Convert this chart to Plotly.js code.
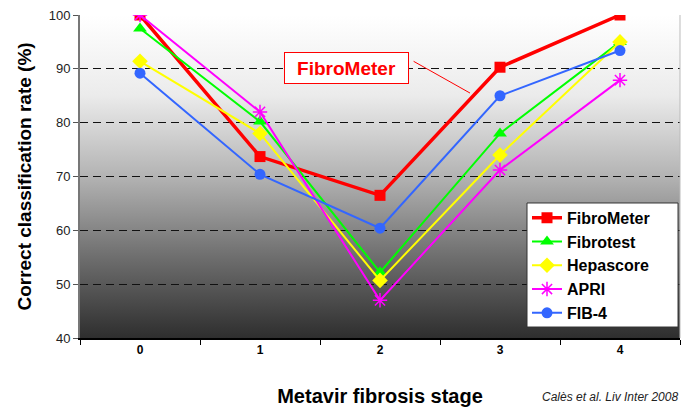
<!DOCTYPE html>
<html>
<head>
<meta charset="utf-8">
<script src="https://cdn.plot.ly/plotly-3.0.1.min.js"></script>
<style>html,body{margin:0;padding:0;background:#fff;}#chart{width:689px;height:410px;}</style>
</head>
<body>
<div id="chart"></div>
<script>
const stages = ['0', '1', '2', '3', '4'];
const fibroMeter = [100, 73.7, 66.5, 90.3, 100];
const fibrotest = [97.5, 80.2, 52.2, 78.0, 95.0];
const hepascore = [91.4, 78.0, 50.7, 74.0, 95.0];
const apri = [100, 82.0, 47.0, 71.2, 87.9];
const fib4 = [89.2, 70.4, 60.4, 85.0, 93.4];
const yTicks = [40, 50, 60, 70, 80, 90, 100];

const gradSvg = '<svg xmlns="http://www.w3.org/2000/svg" width="10" height="100" preserveAspectRatio="none">' +
  '<defs><linearGradient id="g" x1="0" y1="0" x2="0" y2="1">' +
  '<stop offset="0" stop-color="#ffffff"/>' +
  '<stop offset="0.25" stop-color="#ebebeb"/>' +
  '<stop offset="0.5" stop-color="#b3b3b3"/>' +
  '<stop offset="0.75" stop-color="#6e6e6e"/>' +
  '<stop offset="1" stop-color="#2e2e2e"/>' +
  '</linearGradient></defs><rect width="10" height="100" fill="url(#g)"/></svg>';
const gradUri = 'data:image/svg+xml;charset=utf-8,' + encodeURIComponent(gradSvg);

function series(name, y, color, symbol, lw, msize) {
  return {
    x: stages, y: y, name: name, type: 'scatter', mode: 'lines+markers',
    line: {color: color, width: lw},
    marker: {color: color, symbol: symbol, size: msize, line: {color: color, width: symbol === 'asterisk-open' ? 1.5 : 0}}
  };
}

const data = [
  series('FibroMeter', fibroMeter, '#ff0000', 'square', 3.5, 11),
  series('Fibrotest', fibrotest, '#00ff00', 'triangle-up', 2, 12),
  series('Hepascore', hepascore, '#ffff00', 'diamond', 2, 12),
  series('APRI', apri, '#ff00ff', 'asterisk-open', 2, 12),
  series('FIB-4', fib4, '#3366ff', 'circle', 2, 11)
];

const layout = {
  width: 689, height: 410,
  margin: {l: 80, r: 9, t: 15, b: 72},
  paper_bgcolor: '#ffffff',
  plot_bgcolor: 'rgba(0,0,0,0)',
  font: {family: 'Liberation Sans, Arial, sans-serif', color: '#000'},
  images: [{source: gradUri, xref: 'paper', yref: 'paper', x: 0, y: 1, sizex: 1, sizey: 1,
            xanchor: 'left', yanchor: 'top', sizing: 'stretch', layer: 'below'}],
  xaxis: {
    type: 'category', range: [-0.5, 4.5], tickson: 'boundaries', ticks: 'outside', ticklen: 5,
    tickcolor: '#000', showline: true, linecolor: '#000', linewidth: 1.5, showgrid: false,
    tickfont: {size: 12, family: 'Liberation Sans, Arial, sans-serif', weight: 'bold'},
    title: {text: '<b>Metavir fibrosis stage</b>', font: {size: 20}, standoff: 33},
    fixedrange: true
  },
  yaxis: {
    range: [40, 100], tickvals: yTicks, ticks: 'outside', ticklen: 5, tickcolor: '#555',
    showline: true, linecolor: '#777', linewidth: 2,
    showgrid: true, gridcolor: '#111', griddash: '8px,5px', gridwidth: 1,
    tickfont: {size: 13, color: '#222'}, zeroline: false,
    title: {text: '<b>Correct classification rate (%)</b>', font: {size: 19}, standoff: 12},
    fixedrange: true
  },
  legend: {
    x: 0.745, y: 0.425, xanchor: 'left', yanchor: 'top',
    bgcolor: 'rgba(0,0,0,0)', borderwidth: 0,
    font: {size: 16, weight: 'bold'}, itemwidth: 30, tracegroupgap: 0
  },
  shapes: [
    {type: 'line', xref: 'paper', yref: 'paper', x0: 1, x1: 1, y0: 0, y1: 1, line: {color: '#bbbbbb', width: 1}},
    {type: 'line', xref: 'x', yref: 'y', x0: 2.28, y0: 91.4, x1: 2.75, y1: 85.5, line: {color: '#ff0000', width: 1}},
    {type: 'rect', xref: 'paper', yref: 'paper', x0: 0.745, x1: 0.9967, y0: 0.034, y1: 0.418,
     fillcolor: '#ffffff', line: {color: '#333', width: 1}, layer: 'above'}
  ],
  annotations: [
    {xref: 'x', yref: 'y', x: 1.72, y: 90.15, text: '<b>FibroMeter</b>', showarrow: false,
     font: {size: 19, color: '#ff0000'}, bgcolor: '#ffffff', bordercolor: '#ff0000', borderwidth: 1,
     width: 121, height: 28, borderpad: 1},
    {xref: 'paper', yref: 'paper', x: 1.0, y: -0.183, xanchor: 'right', yanchor: 'middle',
     text: '<i>Calès et al. Liv Inter 2008</i>', showarrow: false, font: {size: 12, color: '#222'}}
  ],
  showlegend: true
};

Plotly.newPlot('chart', data, layout, {displayModeBar: false, staticPlot: true});
</script>
</body>
</html>
